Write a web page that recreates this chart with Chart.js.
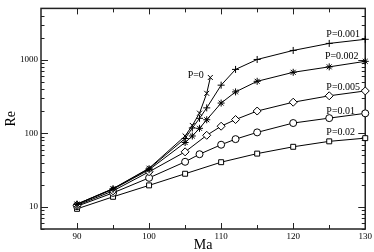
<!DOCTYPE html>
<html>
<head>
<meta charset="utf-8">
<script src="https://cdn.jsdelivr.net/npm/chart.js@4.4.1/dist/chart.umd.min.js"></script>
<style>
  html, body { margin: 0; padding: 0; background: #fff; }
  #wrap { width: 374px; height: 252px; }
</style>
</head>
<body>
<div id="wrap"><canvas id="chart"></canvas></div>
<script>
// Ma (x) and Re (y) per curve
const maP0 = [90, 95, 100, 105, 106, 107, 108, 108.5];
const reP0 = [10.9, 17.7, 33.5, 92, 128, 188, 350, 575];
const maP001 = [90, 95, 100, 105, 106, 107, 108, 110, 112, 115, 120, 125, 130];
const reP001 = [10.9, 17.6, 33, 85, 118, 160, 222, 452, 740, 1010, 1340, 1670, 1900];
const maP002 = [90, 95, 100, 105, 106, 107, 108, 110, 112, 115, 120, 125, 130];
const reP002 = [10.8, 17.4, 32, 75, 92, 117, 153, 258, 366, 510, 676, 802, 953];
const maP005 = [90, 95, 100, 105, 108, 110, 112, 115, 120, 125, 130];
const reP005 = [10.5, 16.5, 30, 56, 94, 125, 154, 201, 265, 324, 377];
const maP01 = [90, 95, 100, 105, 107, 110, 112, 115, 120, 125, 130];
const reP01 = [10.2, 15.5, 24.8, 41, 52, 70, 83.4, 103, 138, 161, 187];
const maP02 = [90, 95, 100, 105, 110, 115, 120, 125, 130];
const reP02 = [9.4, 13.7, 19.6, 28.2, 40.5, 53, 65.6, 77.8, 86];

const seriesNames = ['P=0', 'P=0.001', 'P=0.002', 'P=0.005', 'P=0.01', 'P=0.02'];
const xTickLabels = [90, 100, 110, 120, 130];
const yTickLabels = [10, 100, 1000];

// curve labels, anchored in data units (Ma, Re)
const noteText = ['P=0', 'P=0.001', 'P=0.002', 'P=0.005', 'P=0.01', 'P=0.02'];
const noteMa = [107.6, 124.6, 124.4, 124.6, 124.6, 124.6];
const noteRe = [605, 2240, 1100, 422, 198, 103];

const serif = '"Liberation Serif", "DejaVu Serif", serif';

function pts(xs, ys) {
  return xs.map((x, i) => ({ x: x, y: ys[i] }));
}

function makeSet(i, xs, ys, style, radius) {
  return {
    label: seriesNames[i],
    data: pts(xs, ys),
    showLine: true,
    tension: 0,
    borderColor: '#000',
    borderWidth: 1,
    pointStyle: style,
    pointRadius: radius,
    pointBorderColor: '#000',
    pointBackgroundColor: '#fff',
    pointBorderWidth: 1,
    clip: false
  };
}

const frameTicks = {
  id: 'frameTicks',
  beforeDatasetsDraw(chart) {
    const { ctx, chartArea: a } = chart;
    const xs = chart.scales.x, ys = chart.scales.y;
    ctx.save();
    ctx.strokeStyle = '#222';
    ctx.lineWidth = 1;
    // x ticks every 5, longer at every 10
    for (let v = 90; v <= 130; v += 5) {
      const px = Math.round(xs.getPixelForValue(v)) + 0.5;
      const len = v % 10 === 0 ? 6 : 4;
      ctx.beginPath();
      ctx.moveTo(px, a.bottom); ctx.lineTo(px, a.bottom - len);
      ctx.moveTo(px, a.top); ctx.lineTo(px, a.top + len);
      ctx.stroke();
    }
    // log ticks
    for (let dec = 1; dec <= 1000; dec *= 10) {
      for (let m = 1; m <= 9; m++) {
        const v = m * dec;
        if (v < 5 || v > 5000) continue;
        const py = Math.round(ys.getPixelForValue(v)) + 0.5;
        const len = m === 1 ? 7 : 3.5;
        ctx.beginPath();
        ctx.moveTo(a.left, py); ctx.lineTo(a.left + len, py);
        ctx.moveTo(a.right, py); ctx.lineTo(a.right - len, py);
        ctx.stroke();
      }
    }
    ctx.lineWidth = 1.5;
    ctx.strokeRect(a.left, a.top, a.right - a.left, a.bottom - a.top);
    ctx.restore();
  },
  afterDatasetsDraw(chart) {
    const { ctx } = chart;
    const xs = chart.scales.x, ys = chart.scales.y;
    ctx.save();
    ctx.fillStyle = '#000';
    ctx.font = '10px ' + serif;
    ctx.textBaseline = 'middle';
    noteText.forEach((t, i) => {
      ctx.textAlign = i === 0 ? 'right' : 'left';
      ctx.fillText(t, xs.getPixelForValue(noteMa[i]), ys.getPixelForValue(noteRe[i]));
    });
    ctx.restore();
  }
};

new Chart(document.getElementById('chart'), {
  type: 'scatter',
  data: {
    datasets: [
      makeSet(0, maP0, reP0, 'crossRot', 3.5),
      makeSet(1, maP001, reP001, 'cross', 3.5),
      makeSet(2, maP002, reP002, 'star', 3.5),
      makeSet(3, maP005, reP005, 'rectRot', 4),
      makeSet(4, maP01, reP01, 'circle', 3.5),
      makeSet(5, maP02, reP02, 'rect', 3.5)
    ]
  },
  options: {
    responsive: true,
    maintainAspectRatio: false,
    animation: false,
    devicePixelRatio: 1,
    layout: { padding: { left: 0, right: 8, top: 1, bottom: 0 } },
    plugins: { legend: { display: false }, tooltip: { enabled: false } },
    scales: {
      x: {
        type: 'linear',
        min: 85,
        max: 130,
        grid: { display: false, drawTicks: false },
        border: { display: false },
        afterBuildTicks: s => { s.ticks = xTickLabels.map(v => ({ value: v })); },
        afterFit: s => { s.height = 23; },
        ticks: { color: '#000', font: { family: serif, size: 9 }, padding: 2, maxRotation: 0 },
        title: { display: true, text: 'Ma', color: '#000', font: { family: serif, size: 14, lineHeight: 1 }, padding: 0 }
      },
      y: {
        type: 'logarithmic',
        min: 5,
        max: 5000,
        grid: { display: false, drawTicks: false },
        border: { display: false },
        afterBuildTicks: s => { s.ticks = yTickLabels.map(v => ({ value: v })); },
        afterFit: s => { s.width = 41; },
        ticks: { color: '#000', font: { family: serif, size: 9 }, padding: 3, callback: v => String(v) },
        title: { display: true, text: 'Re', color: '#000', font: { family: serif, size: 14 }, padding: { top: 3, bottom: 0 } }
      }
    }
  },
  plugins: [frameTicks]
});
</script>
</body>
</html>
